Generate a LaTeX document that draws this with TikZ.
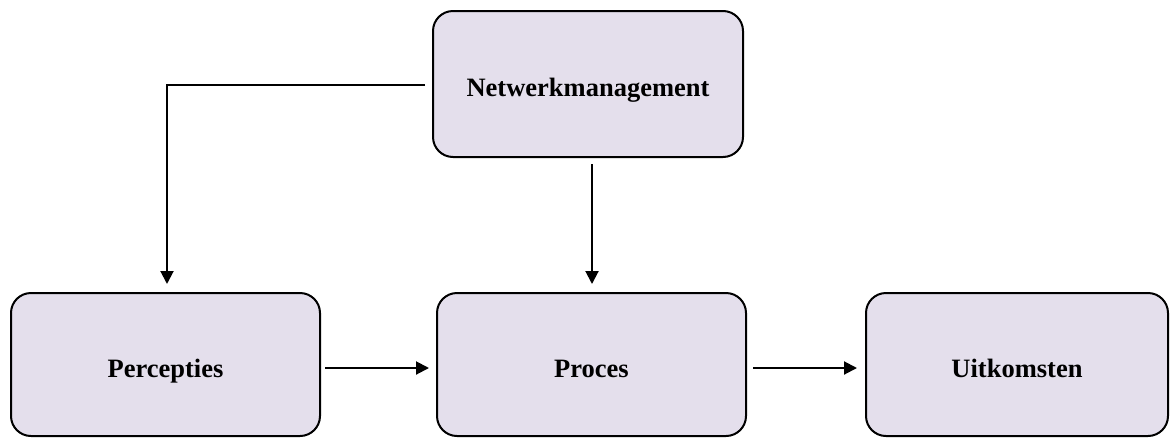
\documentclass[tikz,border=0pt]{standalone}
\usepackage{fontspec}
\setmainfont{Liberation Serif}
\usetikzlibrary{arrows.meta}
\definecolor{boxfill}{RGB}{228,223,236}
\begin{document}
\begin{tikzpicture}[x=1pt,y=-1pt,
  box/.style={draw=black,line width=2pt,fill=boxfill,rounded corners=20pt,
    font=\fontsize{26.5}{30}\selectfont\bfseries,inner sep=0pt,
    text height=25pt,text depth=0pt},
  arr/.style={line width=2pt,-{Triangle[length=13pt,width=13pt]}}]
\useasboundingbox (0,0) rectangle (1170,437);
\node[box,minimum width=310pt,minimum height=146pt] (N) at (588,84) {Netwerkmanagement};
\node[box,minimum width=309pt,minimum height=143pt] (P) at (165.5,364.5) {Percepties};
\node[box,minimum width=309pt,minimum height=143pt] (Q) at (591.5,364.5) {Proces};
\node[box,minimum width=302pt,minimum height=143pt] (U) at (1017,364.5) {Uitkomsten};
\coordinate (c1) at (167,284);
\coordinate (n1) at (592,164);
\coordinate (n2) at (592,284);
\draw[arr] ([xshift=-7pt,yshift=-1pt]N.west) -| (c1);
\draw[arr] (n1) -- (n2);
\draw[arr] ([xshift=4pt,yshift=-3.5pt]P.east) -- ([xshift=-7pt,yshift=-3.5pt]Q.west);
\draw[arr] ([xshift=6pt,yshift=-3.5pt]Q.east) -- ([xshift=-8pt,yshift=-3.5pt]U.west);
\end{tikzpicture}
\end{document}
